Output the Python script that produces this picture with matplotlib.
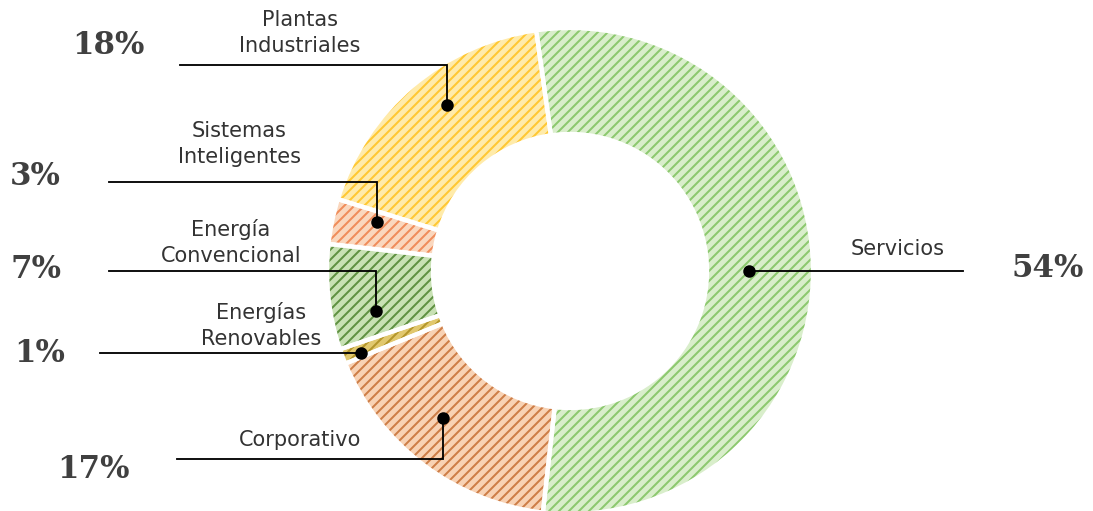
import matplotlib.pyplot as plt
import numpy as np

W, H = 1093, 511
DPI = 120

# Datos del gráfico (orden en sentido horario desde arriba)
categorias = ["Servicios", "Corporativo", "Energías\nRenovables",
              "Energía\nConvencional", "Sistemas\nInteligentes", "Plantas\nIndustriales"]
porcentajes = [54, 17, 1, 7, 3, 18]
etiquetas = [f"{p}%" for p in porcentajes]

colores_fondo = ["#d9eecb", "#f8d2b4", "#e1c86e", "#c8e1b4", "#fad7be", "#ffebaa"]
colores_trama = ["#8cc86e", "#cd7d46", "#b4962a", "#5f9141", "#f08c5a", "#ffc832"]

# Posiciones de las etiquetas (pixeles desde arriba-izquierda)
frac_ang = [0.496, 0.44, 0.75, 0.72, 0.28, 0.44]
frac_rad = [0.735, 0.80, 0.925, 0.815, 0.82, 0.85]
codo_y = [None, 459, None, 271, 182, 65]
fin_x = [963, 177, 100, 109, 109, 180]
texto_xy = [(898, 255), (300, 446), (261, 345), (231, 262), (239, 163), (300, 52)]
pct_xy = [(1048, 277), (93, 478), (40, 362), (36, 278), (35, 185), (108, 54)]

plt.rcParams["hatch.linewidth"] = 1.2

fig = plt.figure(figsize=(W / DPI, H / DPI), dpi=DPI)
ax = fig.add_axes([0, 0, 1, 1])

cx, cy, R = 570, H - 271, 243
ancho = 106

wedges, _ = ax.pie(porcentajes, colors=colores_fondo, startangle=98,
                   counterclock=False, radius=R, center=(cx, cy),
                   wedgeprops=dict(width=ancho, linewidth=0))
for w, c in zip(wedges, colores_trama):
    w.set_hatch("////")
    w.set_edgecolor(c)
    w.set_linewidth(0)

# separaciones blancas entre porciones
ax.pie(porcentajes, colors=["none"] * len(porcentajes), startangle=98,
       counterclock=False, radius=R, center=(cx, cy),
       wedgeprops=dict(width=ancho, linewidth=2.6, edgecolor="white"))

ax.set_xlim(0, W)
ax.set_ylim(0, H)
ax.set_aspect("equal")
ax.axis("off")

for i, w in enumerate(wedges):
    phi = np.deg2rad(w.theta1 + frac_ang[i] * (w.theta2 - w.theta1))
    r = frac_rad[i] * R
    px = cx + r * np.cos(phi)
    py = cy + r * np.sin(phi)
    yc = py if codo_y[i] is None else H - codo_y[i]
    ax.plot([px, px, fin_x[i]], [py, yc, yc], color="black", lw=1.1,
            solid_joinstyle="miter", zorder=5)
    ax.plot(px, py, "o", color="black", ms=6.5, zorder=6)

    tx, ty = texto_xy[i]
    ax.text(tx, H - ty, categorias[i], ha="center", va="baseline",
            fontsize=12.5, color="#333333", linespacing=1.4,
            multialignment="center")
    qx, qy = pct_xy[i]
    ax.text(qx, H - qy, etiquetas[i], ha="center", va="baseline",
            fontsize=18.5, fontweight="bold", family="DejaVu Serif",
            color="#404040")

fig.savefig("out.png", dpi=DPI, facecolor="white")
